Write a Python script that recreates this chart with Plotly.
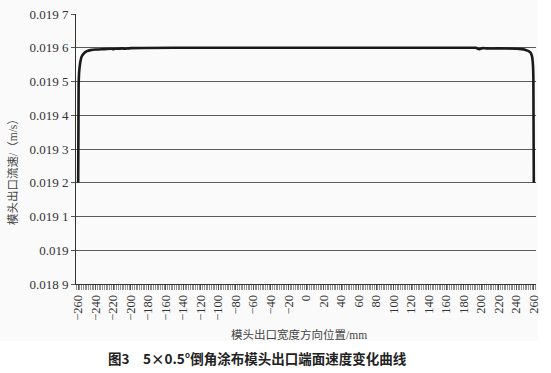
import plotly.graph_objects as go

# position across die width (mm) and outlet velocity (m/s)
pos_mm = [-260, -259.5, -259, -258, -257, -256, -254, -252, -250, -246, -240, -230,
          -222, -220, -218, -214, -210, -206, -204, -200, -150, -100, -50, 0,
          50, 100, 150, 190, 194, 196, 198, 200, 202, 206, 220, 240, 246, 250,
          252, 254, 256, 257, 258, 259, 259.5, 260]
velocity = [0.01920, 0.01949, 0.019525, 0.01955, 0.019565, 0.019574, 0.019582, 0.019587,
            0.01959, 0.019593, 0.019595, 0.019596, 0.019597, 0.019596, 0.019597,
            0.019597, 0.019598, 0.019597, 0.019598, 0.019599, 0.0196, 0.0196, 0.0196, 0.0196,
            0.0196, 0.0196, 0.0196, 0.0196, 0.0196, 0.019597, 0.019596, 0.019598,
            0.019599, 0.019598, 0.019598, 0.019597, 0.019596, 0.019594,
            0.019592, 0.01959, 0.019586, 0.019582, 0.019574, 0.01955, 0.01951, 0.01920]

y_tickvals = [0.0189, 0.019, 0.0191, 0.0192, 0.0193, 0.0194, 0.0195, 0.0196, 0.0197]
y_ticktext = ["0.018 9", "0.019", "0.019 1", "0.019 2", "0.019 3", "0.019 4",
              "0.019 5", "0.019 6", "0.019 7"]
x_tickvals = list(range(-260, 261, 20))
x_ticktext = [("\u2212" + str(-v)) if v < 0 else str(v) for v in x_tickvals]

y_title = "模头出口流速/（m/s）"
x_title = "模头出口宽度方向位置/mm"
caption = "图3　5×0.5°倒角涂布模头出口端面速度变化曲线"

W, H = 551, 373
L, R, T, B = 76, 536, 14, 284  # plot area in pixels


def px(x):
    return (x - L) / (R - L)


def py(y):
    return (B - y) / (B - T)


fig = go.Figure()
fig.add_trace(go.Scatter(
    x=pos_mm, y=velocity, mode="lines",
    line=dict(color="#1a1a1a", width=2.6, shape="spline", smoothing=0.6),
    showlegend=False, hoverinfo="skip"))

serif = "Liberation Serif, serif"

fig.update_layout(
    width=W, height=H,
    margin=dict(l=L, r=W - R, t=T, b=H - B, autoexpand=False),
    paper_bgcolor="white", plot_bgcolor="rgba(0,0,0,0)",
    font=dict(family=serif, color="#333", size=12),
    hovermode=False,
    xaxis=dict(range=[-262.5, 262.5], tickvals=x_tickvals, ticktext=x_ticktext,
               tickangle=-90, showgrid=False, zeroline=False, automargin=False,
               showline=True, linecolor="#333", linewidth=1,
               ticks="outside", ticklen=5, tickcolor="#555", tickwidth=1,
               minor=dict(dtick=2, tick0=0, ticks="outside", ticklen=5,
                          tickcolor="#777", tickwidth=0.8, showgrid=False),
               tickfont=dict(family=serif, size=12.5, color="#333")),
    yaxis=dict(range=[0.0189, 0.0197], tickvals=y_tickvals, ticktext=y_ticktext,
               showgrid=True, gridcolor="#5a5a5a", gridwidth=1, zeroline=False,
               showline=True, linecolor="#333", linewidth=1, automargin=False,
               ticks="outside", ticklen=4, tickcolor="#555",
               tickfont=dict(family=serif, size=13, color="#333")),
    shapes=[dict(type="rect", xref="paper", yref="paper", layer="below",
                 x0=px(0), x1=px(538), y0=py(341), y1=py(0),
                 fillcolor="#fafafa", line=dict(width=0))],
    annotations=[
        dict(text=y_title, xref="paper", yref="paper", x=px(12), y=py(169),
             textangle=-90, showarrow=False, xanchor="center", yanchor="middle",
             font=dict(family="Liberation Serif, Noto Sans CJK SC", size=11.5, color="#444")),
        dict(text=x_title, xref="paper", yref="paper", x=px(299), y=py(334),
             showarrow=False, xanchor="center", yanchor="middle",
             font=dict(family="Liberation Serif, Noto Sans CJK SC", size=11.5, color="#444")),
        dict(text="<b>" + caption + "</b>", xref="paper", yref="paper", x=px(257), y=py(358),
             showarrow=False, xanchor="center", yanchor="middle",
             font=dict(family="Noto Sans CJK SC", size=13.5, color="#222")),
    ],
)

fig.write_html("out.html", config={"displayModeBar": False, "staticPlot": True},
               post_script="document.body.style.margin='0px';")
